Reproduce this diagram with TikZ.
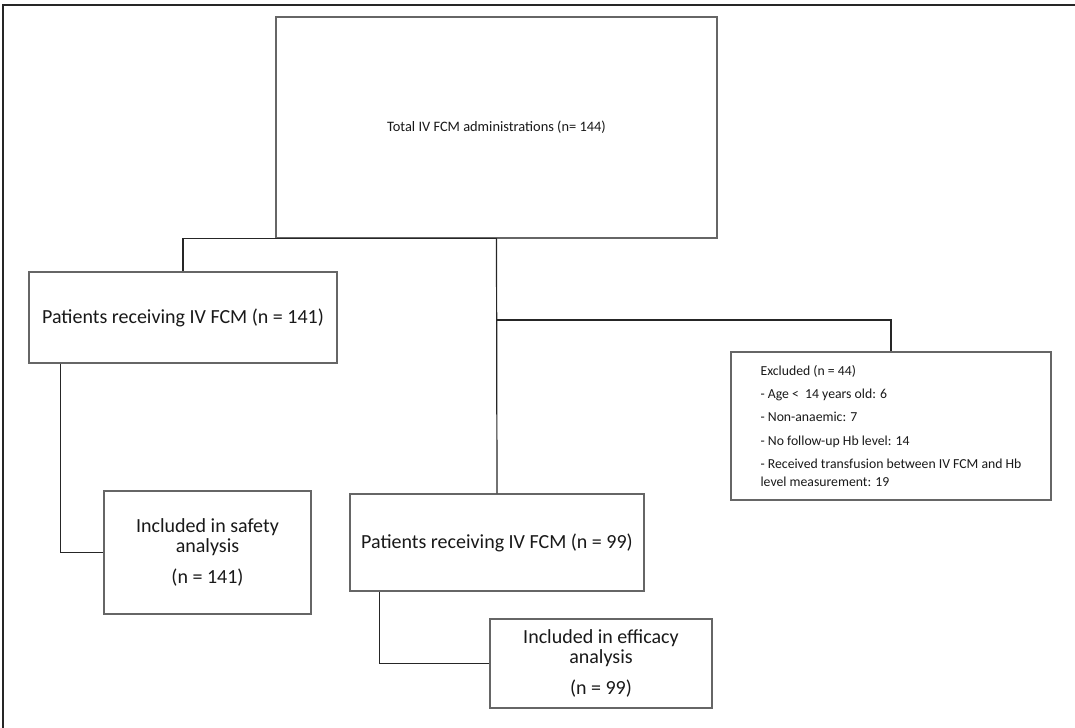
\documentclass[tikz,border=0pt]{standalone}
\usepackage{fontspec}
\setmainfont{Carlito}
\begin{document}
\begin{tikzpicture}[
  x=0.75pt, y=-0.75pt,
  font=\fontsize{15}{15}\selectfont,
  % ---- node styles ----
  flowbox/.style={
    draw=black!60, line width=0.8pt, fill=white,
    align=center, inner sep=2pt, text=black!90
  },
  exclbox/.style={
    draw=black!60, line width=0.8pt, fill=white,
    align=left, inner sep=1pt, text=black!90,
    font=\fontsize{10.3}{13.5}\selectfont
  },
  link/.style={draw=black!85, line width=0.9pt},
]
\useasboundingbox (0,0) rectangle (1075,728);

% ---- outer frame ----
\draw[line width=1.6pt, black!85] (3,728) -- (3,5) -- (1075,5);

% ---- top box ----
\node[flowbox, minimum width=330.75pt, minimum height=165.75pt,
      font=\fontsize{10.8}{13}\selectfont] (total) at (496.5,127.5)
  {Total IV FCM administrations (n= 144)};

% ---- left branch ----
\node[flowbox, minimum width=231pt, minimum height=68.25pt] (pat141) at (183,317.5)
  {Patients receiving IV FCM (n = 141)};
\node[flowbox, minimum width=155.25pt, minimum height=92.25pt] (safety) at (207.5,552.5)
  {Included in safety\\analysis\\[8pt](n = 141)};

% ---- middle branch ----
\node[flowbox, minimum width=220.5pt, minimum height=72.75pt] (pat99) at (497,542.5)
  {Patients receiving IV FCM (n = 99)};
\node[flowbox, minimum width=166.5pt, minimum height=66.75pt] (eff) at (601,663.5)
  {Included in efficacy\\analysis\\[8pt](n = 99)};

% ---- excluded ----
\node[exclbox, minimum width=240pt, minimum height=111pt] (excl) at (891,426)
  {Excluded (n = 44)\\[4pt]
   - Age <\ \ 14 years old: 6\\[4pt]
   - Non-anaemic: 7\\[4pt]
   - No follow-up Hb level: 14\\[4pt]
   - Received transfusion between IV FCM and Hb\\
   level measurement: 19};

% ---- connectors ----
\coordinate (split) at (496.5,320);
\draw[link] (total.south) -| (pat141.north);
\draw[link] (total.south) -- (pat99.north);
\draw[link] (split) -| (excl.north);
\draw[link] ([xshift=24pt]pat141.south west) |- (safety.west);
\draw[link] ([xshift=22.5pt]pat99.south west) |- (eff.west);

\end{tikzpicture}
\end{document}
